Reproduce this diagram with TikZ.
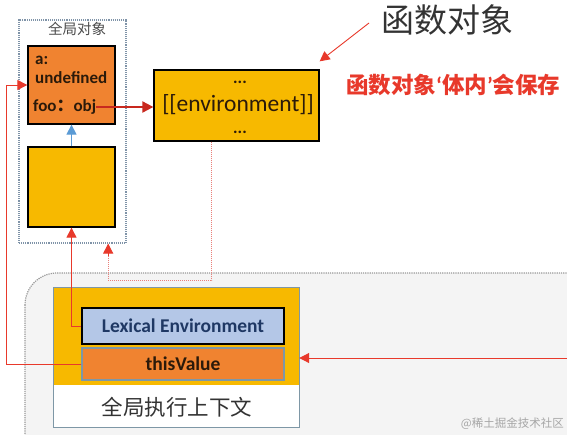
\documentclass[tikz,border=0pt]{standalone}
\usepackage{fontspec}
\setmainfont{Carlito}
\newfontfamily\cjk{Noto Sans CJK SC}
\usetikzlibrary{arrows.meta,calc}
\definecolor{orangeF}{HTML}{F08330}
\definecolor{goldF}{HTML}{F7B900}
\definecolor{blueF}{HTML}{B4C7E7}
\definecolor{redA}{HTML}{E8392B}
\definecolor{redD}{HTML}{C8281E}
\definecolor{blueA}{HTML}{5B9BD5}
\definecolor{frameC}{HTML}{7F93A8}
\definecolor{ctxC}{HTML}{7E97A6}
\definecolor{bgG}{HTML}{F4F4F4}
\definecolor{dotR}{HTML}{E9807A}
\definecolor{navyT}{HTML}{1F3864}
\definecolor{darkT}{HTML}{2B1A0A}
\begin{document}
\begin{tikzpicture}[x=1pt,y=-1pt,
  box/.style={draw=black,line width=1.3pt,minimum width=87pt,inner sep=0pt},
  tip/.style={-{Triangle[length=10pt,width=10pt]}},
  redline/.style={redA,line width=1pt,tip},
  objtext/.style={anchor=west,inner sep=0pt,font=\fontsize{17}{17}\selectfont\bfseries,text=darkT},
  dots/.style={anchor=base,inner sep=0pt,font=\fontsize{17}{17}\selectfont\bfseries,text=darkT},
]
\useasboundingbox (0,0) rectangle (567,434);
\clip (0,0) rectangle (567,434);
\fill[white] (0,0) rectangle (567,434);
% big region
\draw[gray!80,densely dotted,line width=1.2pt,fill=bgG,rounded corners=32pt] (25,273) rectangle (640,500);
% global object frame
\node[draw=frameC,densely dotted,line width=1.1pt,minimum width=107pt,minimum height=223pt,inner sep=0pt] (frame) at (72.5,131.5) {};
\node[inner sep=0pt,font=\cjk\fontsize{14.5}{14.5}\selectfont,text=black!70] (ftitle) at (77,29) {全局对象};
\node[box,fill=orangeF,minimum height=78pt] (obj) at (71.5,85) {};
\node[box,fill=goldF,minimum height=80pt] (yel) at (71.5,187) {};
\node[objtext] (ta) at (35,60) {a:};
\node[objtext] (tu) at (35,78) {undefined};
\node[objtext] (foo) at (33,107) {foo{\cjk\bfseries ：}obj};
% function object
\node[draw=black,line width=1.3pt,fill=goldF,minimum width=165pt,minimum height=71pt,inner sep=0pt] (func) at (236.5,105.5) {};
\node[dots] (fd1) at (240,83) {...};
\node[inner sep=0pt,font=\fontsize{23.5}{23.5}\selectfont,text=darkT] (fenv) at (238,105) {[[environment]]};
\node[dots] (fd2) at (240,133) {...};
\node[inner sep=0pt,font=\cjk\fontsize{33}{33}\selectfont,text=black!80] (fobj) at (447,20) {函数对象};
\node[anchor=west,inner sep=0pt,font=\cjk\bfseries\fontsize{22.5}{22.5}\selectfont,text=redA] (note) at (346,85) {函数对象{\rmfamily\bfseries ‘}体内{\rmfamily\bfseries ’}会保存};
% execution context
\node[fill=white,minimum width=245pt,minimum height=139pt,inner sep=0pt] (ctx) at (176.5,357.5) {};
\fill[goldF] (ctx.north west) rectangle (299,385);
\draw[ctxC,line width=1.3pt] (ctx.north west) rectangle (ctx.south east);
\node[draw=black,line width=1.3pt,fill=blueF,minimum width=202pt,minimum height=36pt,inner sep=0pt,font=\fontsize{19.5}{19.5}\selectfont\bfseries,text=navyT] (le) at (183,326) {Lexical Environment};
\node[draw=ctxC,line width=1.2pt,fill=orangeF,minimum width=202pt,minimum height=32pt,inner sep=0pt,font=\fontsize{19.5}{19.5}\selectfont\bfseries,text=darkT] (tv) at (183,364) {thisValue};
\node[inner sep=0pt,font=\cjk\fontsize{21.5}{21.5}\selectfont,text=black!80] (ctxl) at (177,407) {全局执行上下文};
\node[anchor=east,inner sep=0pt,font=\cjk\fontsize{11.5}{11.5}\selectfont,text=black!35] (wm) at (564,424) {@稀土掘金技术社区};
% connectors
\draw[blueA,line width=1.2pt,tip] (yel.north) -- (obj.south);
\draw[redD,line width=2pt,-{Triangle[length=11pt,width=11pt]}] (foo.east) -- (foo.east -| func.west);
\coordinate (p0) at (369,23);
\draw[redA,line width=0.9pt,-{Triangle[length=10pt,width=10pt]}] (p0) -- ([yshift=8pt]func.north east);
\draw[redline] (le.west) -| (yel.south);
\draw[redline] (tv.west) -- ++(-75,0) |- (obj.west);
\coordinate (d0) at ($(func.south west)!0.35!(func.south east)$);
\coordinate (d1) at ($(frame.south west)!0.83!(frame.south east)$);
\draw[dotR,densely dotted,line width=1pt] (d0) -- ++(0,139) -| ([yshift=-12pt]d1);
\draw[redA,line width=1pt,tip] ([yshift=-12pt]d1) -- (d1);
\coordinate (re) at (567,358);
\draw[redline] (re) -- (re -| ctx.east);
\end{tikzpicture}
\end{document}
